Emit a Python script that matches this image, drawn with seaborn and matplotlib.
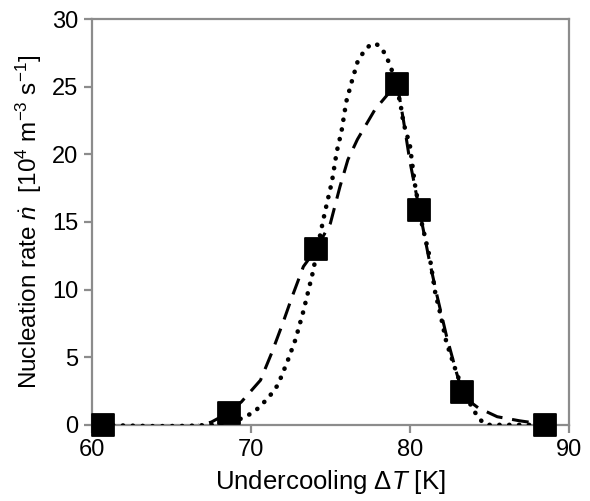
import pandas as pd
import matplotlib
matplotlib.use("Agg")
import matplotlib.pyplot as plt
import seaborn as sns

# measured points (squares)
dT = [60.7, 68.6, 74.1, 79.2, 80.6, 83.3, 88.5]
rate = [0.0, 0.9, 13.0, 25.2, 15.9, 2.45, 0.0]

dash_x = [60.7, 62.0, 63.5, 65.0, 66.5, 67.5, 68.6, 69.4, 70.6, 71.3, 72.0, 72.6, 73.3, 74.1,
          75.0, 75.6, 76.1, 76.7, 77.3, 77.8, 78.3, 78.8, 79.2, 79.6, 80.0, 80.6,
          81.2, 81.7, 82.3, 82.9, 83.3, 83.8, 84.3, 85.5, 86.9, 87.8, 88.5]
dash_y = [0.0, -0.08, -0.15, -0.17, -0.1, 0.2, 0.9, 1.7, 3.3, 5.3, 7.5, 9.5, 11.7, 13.0,
          14.9, 17.6, 19.6, 21.1, 22.3, 23.3, 24.0, 24.7, 25.2, 22.5, 19.5, 15.9,
          12.3, 9.6, 6.6, 4.0, 2.45, 1.7, 1.26, 0.6, 0.3, 0.15, 0.0]

# dotted fitted curve
dot_x = [60.7, 62.0, 64.0, 66.0, 67.5, 68.5, 69.5, 70.25, 71.1, 71.7, 72.3, 72.8, 73.3, 73.9,
         74.4, 74.65, 75.1, 75.4, 75.7, 76.0, 76.35, 76.7, 77.05, 77.5, 77.8, 78.1, 78.4,
         78.7, 78.9, 79.4, 79.6, 80.0, 80.3, 80.75, 81.25, 81.6, 81.9, 82.3, 82.95, 83.5,
         84.0, 84.4, 84.8, 86.0, 87.5, 89.0]
dot_y = [0.0, -0.05, -0.1, -0.08, 0.0, 0.15, 0.5, 1.0, 2.0, 2.96, 4.7, 6.3, 8.4, 11.3,
         14.3, 15.7, 18.0, 20.2, 21.7, 23.9, 25.4, 26.8, 27.5, 28.1, 28.2, 28.0, 27.5,
         26.75, 26.1, 23.8, 22.3, 20.7, 17.9, 14.9, 12.4, 9.75, 8.3, 6.1, 3.8, 2.2,
         1.1, 0.4, 0.0, 0.0, 0.0, 0.0]

pts = pd.DataFrame({"dT": dT, "rate": rate})
dash = pd.DataFrame({"x": dash_x, "y": dash_y})
dots = pd.DataFrame({"x": dot_x, "y": dot_y})

sns.set_style("white")
plt.rcParams["font.family"] = ["Liberation Sans", "DejaVu Sans"]
plt.rcParams["mathtext.fontset"] = "custom"
plt.rcParams["mathtext.rm"] = "Liberation Sans"
plt.rcParams["mathtext.it"] = "Liberation Sans:italic"
plt.rcParams["text.color"] = "black"
plt.rcParams["axes.labelcolor"] = "black"

fig = plt.figure(figsize=(5.9, 5.01), dpi=100)
ax = fig.add_axes([0.156, 0.152, 0.808, 0.810])

sns.lineplot(data=dash, x="x", y="y", sort=False, color="black", lw=2.2,
             ax=ax, zorder=2).lines[-1].set_dashes([5.5, 3.2])
l2 = sns.lineplot(data=dots, x="x", y="y", sort=False, color="black", lw=3.3, ax=ax, zorder=3).lines[-1]
l2.set_linestyle((0, (0.05, 2.1)))
l2.set_dash_capstyle("round")
sns.scatterplot(data=pts, x="dT", y="rate", marker="s", s=260, color="black",
                edgecolor="black", ax=ax, zorder=4, clip_on=False)

ax.set_xlim(60, 90)
ax.set_ylim(0, 30)
ax.set_xticks([60, 70, 80, 90])
ax.set_yticks([0, 5, 10, 15, 20, 25, 30])
for s in ax.spines.values():
    s.set_color("#8c8c8c")
    s.set_linewidth(1.6)
ax.tick_params(axis="both", direction="out", length=6, width=1.6, color="#8c8c8c",
               labelsize=17, labelcolor="black", bottom=True, left=True, pad=4)
ax.set_xlabel(r"Undercooling $\Delta\mathit{T}$ [K]", fontsize=18.5, labelpad=5)
ax.set_ylabel(r"Nucleation rate $\mathit{\dot{n}}$  [10$^4$ m$^{-3}$ s$^{-1}$]", fontsize=17.5, labelpad=6)

fig.savefig("out.png", dpi=100)
